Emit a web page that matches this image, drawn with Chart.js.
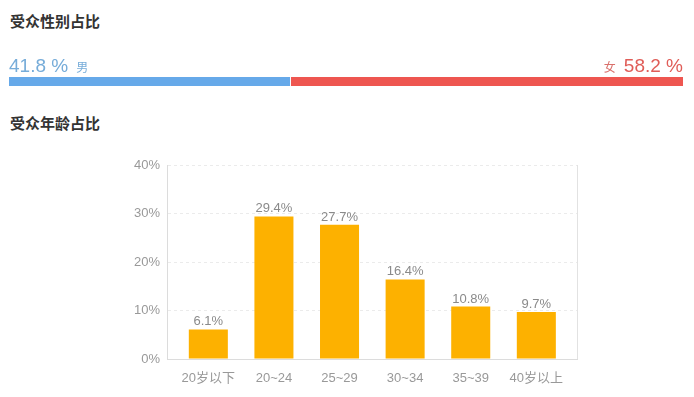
<!DOCTYPE html>
<html>
<head>
<meta charset="utf-8">
<script src="https://cdn.jsdelivr.net/npm/chart.js@4/dist/chart.umd.min.js"></script>
<style>
  body { margin: 0; background: #fff; width: 694px; height: 397px; position: relative; overflow: hidden;
         font-family: "Liberation Sans", Arial, "Noto Sans CJK SC", sans-serif; }
  .title { position: absolute; left: 10px; font-size: 15px; font-weight: bold; color: #333;
           font-family: "Noto Sans CJK SC", sans-serif; }
  #genderBox { position: absolute; left: 0; top: 40px; width: 694px; height: 55px; }
  #ageBox { position: absolute; left: 0; top: 140px; width: 694px; height: 257px; }
</style>
</head>
<body>
<div class="title" style="top:10px">受众性别占比</div>
<div class="title" style="top:112px">受众年龄占比</div>
<div id="genderBox"><canvas id="genderChart"></canvas></div>
<div id="ageBox"><canvas id="ageChart"></canvas></div>
<script>
const genderLabels = ["男", "女"];
const genderValues = [41.8, 58.2];
const genderColors = ["#66a9e9", "#ee5650"];

const ageLabels = ["20岁以下", "20~24", "25~29", "30~34", "35~39", "40岁以上"];
const ageValues = [6.1, 29.4, 27.7, 16.4, 10.8, 9.7];

const latin = '"Liberation Sans", Arial, sans-serif';
const cjk = '"Noto Sans CJK SC", sans-serif';

// labels above the gender bar ends
const genderText = {
    id: "genderText",
    afterDraw(chart) {
        const c = chart.ctx;
        const area = chart.chartArea;
        const y = area.top - 5;
        c.save();
        c.textBaseline = "alphabetic";
        c.textAlign = "left";
        c.fillStyle = "#76acd9";
        c.font = "19px " + latin;
        const t1 = genderValues[0] + " %";
        c.fillText(t1, area.left, y);
        const w1 = c.measureText(t1).width;
        c.font = "12px " + cjk;
        c.fillText(genderLabels[0], area.left + w1 + 8, y);

        c.textAlign = "right";
        c.fillStyle = "#e05d58";
        c.font = "19px " + latin;
        const t2 = genderValues[1] + " %";
        c.fillText(t2, area.right, y);
        const w2 = c.measureText(t2).width;
        c.font = "12px " + cjk;
        c.fillStyle = "#d9706b";
        c.fillText(genderLabels[1], area.right - w2 - 8, y);
        c.restore();
    },
};

new Chart(document.getElementById("genderChart"), {
    type: "bar",
    data: {
        labels: [""],
        datasets: genderLabels.map((l, i) => ({
            label: l,
            data: [genderValues[i]],
            backgroundColor: genderColors[i],
            borderColor: "#ffffff",
            borderWidth: i === 0 ? { right: 1 } : 0,
            borderSkipped: false,
            barPercentage: 1,
            categoryPercentage: 1,
        })),
    },
    options: {
        indexAxis: "y",
        responsive: true,
        maintainAspectRatio: false,
        animation: false,
        layout: { padding: { left: 9, right: 11, top: 37, bottom: 9 } },
        plugins: { legend: { display: false }, tooltip: { enabled: false } },
        scales: {
            x: { stacked: true, min: 0, max: 100, display: false },
            y: { stacked: true, display: false },
        },
    },
    plugins: [genderText],
});

// value labels above bars and right frame line
const ageExtras = {
    id: "ageExtras",
    afterDraw(chart) {
        const c = chart.ctx;
        const area = chart.chartArea;
        c.save();
        c.strokeStyle = "#e2e2e2";
        c.lineWidth = 1;
        c.beginPath();
        c.moveTo(Math.round(area.right) + 0.5, area.top);
        c.lineTo(Math.round(area.right) + 0.5, area.bottom);
        c.stroke();
        c.fillStyle = "#8a8a8a";
        c.font = "13px " + latin;
        c.textAlign = "center";
        c.textBaseline = "alphabetic";
        chart.getDatasetMeta(0).data.forEach((bar, i) => {
            c.fillText(ageValues[i] + "%", bar.x, bar.y - 4);
        });
        c.restore();
    },
};

new Chart(document.getElementById("ageChart"), {
    type: "bar",
    data: {
        datasets: [{
            data: ageValues.map((v, i) => ({ x: i, y: v })),
            backgroundColor: "#fdb100",
            barPercentage: 0.595,
            categoryPercentage: 1,
        }],
    },
    options: {
        responsive: true,
        maintainAspectRatio: false,
        animation: false,
        layout: { padding: { left: 0, right: 117, top: 25, bottom: 0 } },
        plugins: { legend: { display: false }, tooltip: { enabled: false } },
        scales: {
            x: {
                type: "linear",
                offset: false,
                min: -0.63,
                max: 5.62,
                grid: { display: false },
                border: { color: "#dcdcdc" },
                afterBuildTicks(scale) {
                    scale.ticks = ageLabels.map((l, i) => ({ value: i }));
                },
                ticks: {
                    color: "#999",
                    font: { size: 13, family: latin + ', "Noto Sans CJK SC"' },
                    padding: 4,
                    autoSkip: false,
                    maxRotation: 0,
                    callback: (v) => ageLabels[v],
                },
                afterFit(scale) { scale.height = 38; },
            },
            y: {
                min: 0,
                max: 40,
                ticks: {
                    stepSize: 10,
                    color: "#999",
                    padding: 7,
                    font: { size: 13, family: latin },
                    callback: (v) => v + "%",
                },
                grid: { color: "#ebebeb", drawTicks: false },
                border: { color: "#dcdcdc", dash: [3, 3] },
                afterFit(scale) { scale.width = 167; },
            },
        },
    },
    plugins: [ageExtras],
});
</script>
</body>
</html>
